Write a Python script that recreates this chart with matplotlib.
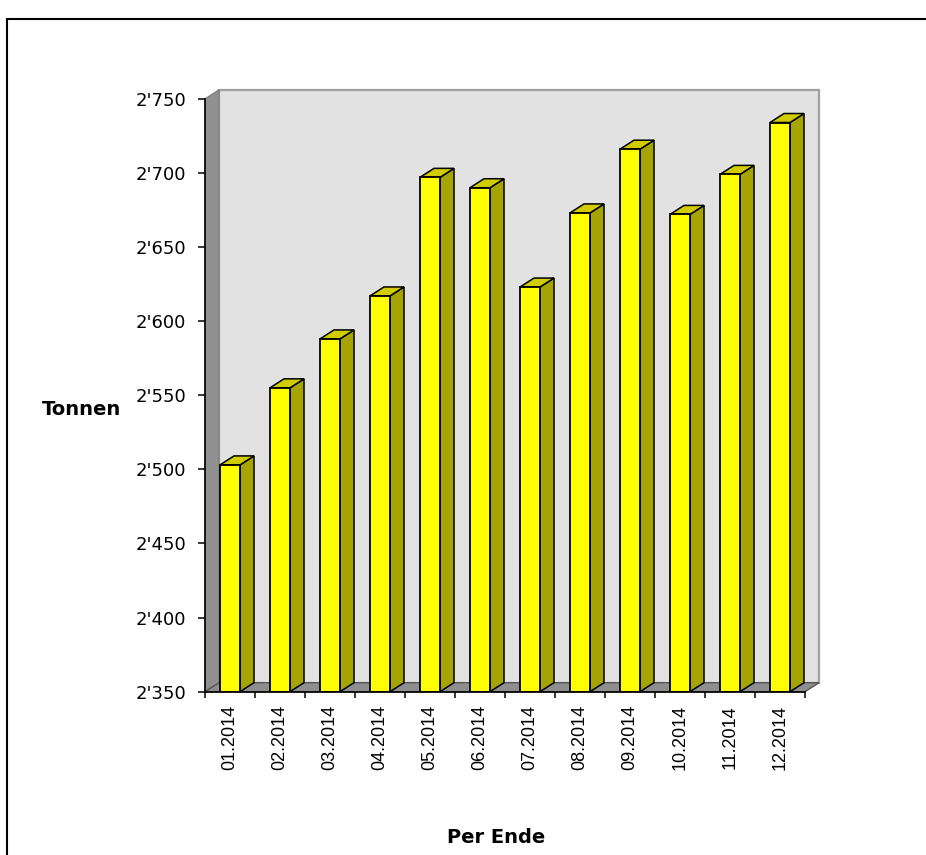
import matplotlib
matplotlib.use('Agg')
import matplotlib.pyplot as plt
import numpy as np
from matplotlib.patches import Polygon, Rectangle

# ---- data ----
categories = ['01.2014', '02.2014', '03.2014', '04.2014', '05.2014', '06.2014',
              '07.2014', '08.2014', '09.2014', '10.2014', '11.2014', '12.2014']
values = [2503, 2555, 2588, 2617, 2697, 2690, 2623, 2673, 2716, 2672, 2699, 2734]
y_ticks = [2350, 2400, 2450, 2500, 2550, 2600, 2650, 2700, 2750]
y_tick_labels = ["2'350", "2'400", "2'450", "2'500", "2'550", "2'600", "2'650", "2'700", "2'750"]
y_label = 'Tonnen'
x_label = 'Per Ende'

# ---- figure ----
W, H = 926, 855
fig = plt.figure(figsize=(W / 100, H / 100), dpi=100)
fig.patch.set_facecolor('white')

ax_left, ax_right = 205, 805
ax_top, ax_bottom = 98.8, 691.7
ax = fig.add_axes([ax_left / W, 1 - ax_bottom / H,
                   (ax_right - ax_left) / W, (ax_bottom - ax_top) / H])
ymin, ymax = y_ticks[0], y_ticks[-1]
n = len(categories)
ax.set_xlim(-0.5, n - 0.5)
ax.set_ylim(ymin, ymax)
ax.patch.set_visible(False)

# depth offset (pixels -> data units)
px_x = (ax_right - ax_left) / n
px_y = (ax_bottom - ax_top) / (ymax - ymin)
ddx = 14 / px_x
ddy = 9 / px_y

x0, x1 = -0.5, n - 0.5
# back wall
ax.add_patch(Rectangle((x0 + ddx, ymin + ddy), x1 - x0, ymax - ymin,
                       facecolor='#e2e2e2', edgecolor='#a0a0a0', lw=1.6,
                       zorder=0, clip_on=False))
# left wall
ax.add_patch(Polygon([(x0, ymin), (x0, ymax), (x0 + ddx, ymax + ddy), (x0 + ddx, ymin + ddy)],
                     closed=True, facecolor='#909090', edgecolor='#7a7a7a', lw=0.8,
                     zorder=0.5, clip_on=False))
# floor
ax.add_patch(Polygon([(x0, ymin), (x1, ymin), (x1 + ddx, ymin + ddy), (x0 + ddx, ymin + ddy)],
                     closed=True, facecolor='#8e8e8e', edgecolor='#555555', lw=1.0,
                     zorder=1, clip_on=False))

# bars
xs = np.arange(n)
bw = 0.4
vals = np.array(values, dtype=float)
ax.bar(xs, vals - ymin, bottom=ymin, width=bw, color='#ffff00',
       edgecolor='black', lw=1.3, zorder=3)
for x, v in zip(xs, vals):
    r = x + bw / 2
    l = x - bw / 2
    ax.add_patch(Polygon([(r, ymin), (r + ddx, ymin + ddy), (r + ddx, v + ddy), (r, v)],
                         closed=True, facecolor='#a6a400', edgecolor='black', lw=1.1,
                         zorder=2.9, clip_on=False))
    ax.add_patch(Polygon([(l, v), (r, v), (r + ddx, v + ddy), (l + ddx, v + ddy)],
                         closed=True, facecolor='#d0cc00', edgecolor='black', lw=1.1,
                         zorder=2.9, clip_on=False))

# axes styling
for s in ['top', 'right']:
    ax.spines[s].set_visible(False)
for s in ['left', 'bottom']:
    ax.spines[s].set_color('black')
    ax.spines[s].set_linewidth(1.2)
    ax.spines[s].set_zorder(5)

ax.set_yticks(y_ticks)
ax.set_yticklabels(y_tick_labels, fontsize=13, family='DejaVu Sans')
ax.tick_params(axis='y', direction='out', length=5, width=1.1, pad=8.5, colors='black')

ax.set_xticks(np.arange(n + 1) - 0.5)
ax.set_xticklabels([''] * (n + 1))
ax.set_xticks(xs, minor=True)
ax.set_xticklabels(categories, minor=True, rotation=90, fontsize=13,
                   family='Liberation Sans', va='top', ha='center')
ax.tick_params(axis='x', which='major', direction='out', length=4.5, width=1.1)
ax.tick_params(axis='x', which='minor', length=0, pad=9.5)

fig.text(82 / W, 1 - 415 / H, y_label, ha='center', va='baseline',
         fontsize=14, fontweight='bold', family='DejaVu Sans')
fig.text(496 / W, 1 - 843 / H, x_label, ha='center', va='baseline',
         fontsize=14, fontweight='bold', family='DejaVu Sans')

# outer frame
fig.add_artist(Rectangle((7 / W, -0.05), 1.0, 1 - 19 / H + 0.05, transform=fig.transFigure,
                         fill=False, edgecolor='black', lw=1.5))

fig.savefig('out.png', dpi=100)
